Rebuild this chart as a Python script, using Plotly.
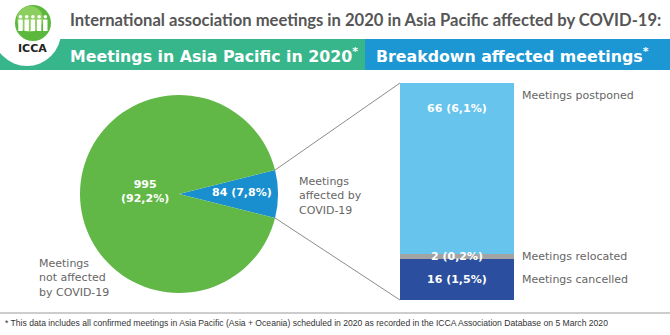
import numpy as np
import plotly.graph_objects as go

W, H = 670, 335

# ---------------- data ----------------
pie_labels = ["Meetings affected by COVID-19", "Meetings not affected by COVID-19"]
pie_values = [84, 995]
bar_labels = ["Meetings cancelled", "Meetings relocated", "Meetings postponed"]
bar_values = [16, 2, 66]

title_text = "International association meetings in 2020 in Asia Pacific affected by COVID-19:"
band_left_text = "Meetings in Asia Pacific in 2020"
band_right_text = "Breakdown affected meetings"
footnote = ("* This data includes all confirmed meetings in Asia Pacific (Asia + Oceania) scheduled in 2020 "
            "as recorded in the ICCA Association Database on 5 March 2020")

total = sum(pie_values)


def fmt(v):
    return f"{v} ({v / total * 100:.1f}%)".replace(".", ",")


def px(x):
    return x / W


def py(y):
    return 1 - y / H


# colours
C_GREEN_BAND = "#38b68b"
C_BLUE_BAND = "#1c97d4"
C_PIE_GREEN = "#62b846"
C_PIE_BLUE = "#1a8fd0"
C_BAR = ["#2b4f9e", "#a3a3a3", "#67c4ec"]
C_TEXT = "#666666"
C_TITLE = "#565656"

# geometry (pixels)
pie_x0, pie_x1, pie_y0, pie_y1 = 80, 278, 95, 293
bar_x0, bar_x1, bar_y0, bar_y1 = 400, 514, 83, 300

fig = go.Figure()

half = 0.5 * pie_values[0] / total * 360
fig.add_trace(go.Pie(
    labels=pie_labels, values=pie_values, sort=False, direction="clockwise",
    rotation=90 - half, marker=dict(colors=[C_PIE_BLUE, C_PIE_GREEN], line=dict(width=0)),
    textinfo="none", hoverinfo="label+value", showlegend=False,
    domain=dict(x=[px(pie_x0), px(pie_x1)], y=[py(pie_y1), py(pie_y0)]),
))

for lab, val, col in zip(bar_labels, bar_values, C_BAR):
    fig.add_trace(go.Bar(
        x=[0], y=[val], name=lab, marker=dict(color=col, line=dict(width=0)),
        width=1, showlegend=False, textposition="none", xaxis="x", yaxis="y",
    ))

fig.update_layout(
    width=W, height=H, margin=dict(l=0, r=0, t=0, b=0),
    paper_bgcolor="white", plot_bgcolor="rgba(0,0,0,0)",
    barmode="stack", bargap=0,
    xaxis=dict(domain=[px(bar_x0), px(bar_x1)], range=[-0.5, 0.5], visible=False, fixedrange=True),
    yaxis=dict(domain=[py(bar_y1), py(bar_y0)], range=[0, sum(bar_values)],
               visible=False, fixedrange=True),
    font=dict(family="DejaVu Sans", size=11, color=C_TEXT),
)

shapes = []
ann = []


def text(t, x, y, xanchor="center", yanchor="middle", **kw):
    d = dict(text=t, xref="paper", yref="paper", x=px(x), y=py(y), xanchor=xanchor, yanchor=yanchor,
             showarrow=False)
    d.update(kw)
    ann.append(d)


# header bands
shapes.append(dict(type="rect", xref="paper", yref="paper", x0=0, x1=px(365), y0=py(70), y1=py(39),
                   fillcolor=C_GREEN_BAND, line=dict(width=0), layer="below"))
shapes.append(dict(type="rect", xref="paper", yref="paper", x0=px(365), x1=1, y0=py(70), y1=py(39),
                   fillcolor=C_BLUE_BAND, line=dict(width=0), layer="below"))
# logo white disc
shapes.append(dict(type="circle", xref="paper", yref="paper", x0=px(27 - 34), x1=px(27 + 34),
                   y0=py(32 + 34), y1=py(32 - 34), fillcolor="white", line=dict(width=0)))
# green sphere
shapes.append(dict(type="circle", xref="paper", yref="paper", x0=px(33 - 18), x1=px(33 + 18),
                   y0=py(23 + 18), y1=py(23 - 18), fillcolor="#5bb83c", line=dict(width=0)))
shapes.append(dict(type="circle", xref="paper", yref="paper", x0=px(30 - 13), x1=px(30 + 13),
                   y0=py(19 + 13), y1=py(19 - 13), fillcolor="#8ccf5e", line=dict(width=0)))
# little people in logo
for i in range(5):
    cxp = 20.5 + i * 6.2
    shapes.append(dict(type="circle", xref="paper", yref="paper", x0=px(cxp - 1.8), x1=px(cxp + 1.8),
                       y0=py(18.5), y1=py(14.9), fillcolor="white", line=dict(width=0)))
    shapes.append(dict(type="rect", xref="paper", yref="paper", x0=px(cxp - 2.2), x1=px(cxp + 2.2),
                       y0=py(31), y1=py(19.5), fillcolor="white", line=dict(width=0)))
text("<b>ICCA</b>", 32, 48.5, font=dict(family="DejaVu Sans", size=11, color="#222222"))

# title and bands
text("<b>" + title_text + "</b>", 68, 20, xanchor="left",
     font=dict(family="Lato", size=16.6, color=C_TITLE))
text("<b>" + band_left_text + "<sup>*</sup></b>", 68, 55, xanchor="left",
     font=dict(family="DejaVu Sans", size=15.8, color="white"))
text("<b>" + band_right_text + "<sup>*</sup></b>", 374, 55, xanchor="left",
     font=dict(family="DejaVu Sans", size=15.8, color="white"))

# connector lines from pie slice edges to bar corners
cx, cy = (pie_x0 + pie_x1) / 2, (pie_y0 + pie_y1) / 2
r = (pie_x1 - pie_x0) / 2
th = np.deg2rad(half)
for sgn, by in ((-1, bar_y0), (1, bar_y1)):
    sx, sy = cx + r * np.cos(th), cy + sgn * r * np.sin(th)
    shapes.append(dict(type="line", xref="paper", yref="paper", x0=px(sx), y0=py(sy), x1=px(bar_x0), y1=py(by),
                       line=dict(color="#8c8c8c", width=1)))

# pie labels
big = fmt(pie_values[1])
text("<b>" + big.replace(" (", "<br>(") + "</b>", 145, 191,
     font=dict(family="DejaVu Sans", size=11, color="white"))
text("<b>" + fmt(pie_values[0]) + "</b>", 242, 193,
     font=dict(family="DejaVu Sans", size=11, color="white"))
text("Meetings<br>affected by<br>COVID-19", 297, 196, xanchor="left", align="left")
text("Meetings<br>not affected<br>by COVID-19", 37, 278, xanchor="left", align="left")

# bar labels
cum = np.cumsum([0] + bar_values)
for i, (lab, val) in enumerate(zip(bar_labels, bar_values)):
    if i == 2:
        yv, ys, ys_r = cum[i + 1], -25, -12
    else:
        yv, ys, ys_r = (cum[i] + cum[i + 1]) / 2, 0, 0
    ann.append(dict(text="<b>" + fmt(val) + "</b>", xref="x", yref="y", x=0, y=yv, yshift=ys,
                    xanchor="center", yanchor="middle",
                    showarrow=False, font=dict(family="DejaVu Sans", size=11, color="white")))
    ann.append(dict(text=lab, xref="paper", yref="y", x=px(520), y=yv, yshift=ys_r, xanchor="left",
                    yanchor="middle", showarrow=False))

# footnote
shapes.append(dict(type="line", xref="paper", yref="paper", x0=0, x1=1, y0=py(313), y1=py(313),
                   line=dict(color="#9a9a9a", width=1)))
text(footnote, 3, 323, xanchor="left",
     font=dict(family="Liberation Sans Narrow, Liberation Sans", size=8.6, color="#333333"))

fig.update_layout(shapes=shapes, annotations=ann)
fig.write_html("out.html")
